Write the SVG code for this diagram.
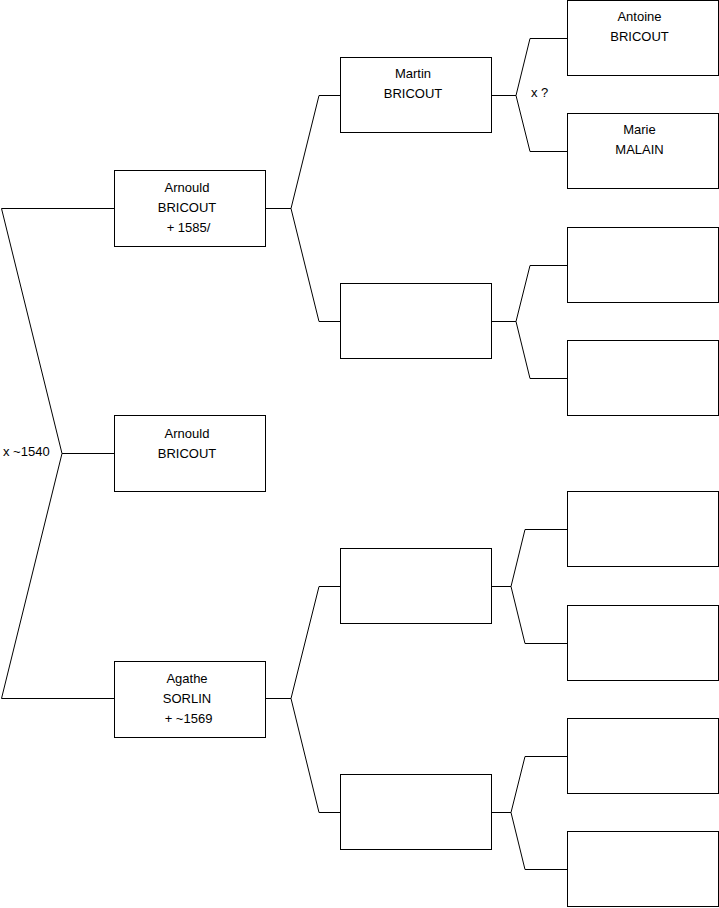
<svg xmlns="http://www.w3.org/2000/svg" width="719" height="908" viewBox="0 0 719 908">
<style>
.box{fill:#fff;stroke:#000;stroke-width:1}
.ln{fill:none;stroke:#000;stroke-width:1}
text{font-family:"Liberation Sans",Arial,sans-serif;font-size:13px;fill:#000}
.c{text-anchor:middle}
</style>
<rect width="719" height="908" fill="#fff"/>
<g id="connectors" class="ln">
<path d="M1.5,208.5 H114.5 M1.5,208.5 L62,453.5 L1.5,698.5 H114.5 M62,453.5 H114.5"/>
<path d="M265.5,208.5 H291 M319,95.5 L291,208.5 L319,321.5 M319,95.5 H340.5 M319,321.5 H340.5"/>
<path d="M265.5,698.5 H291 M319,586.5 L291,698.5 L319,812.5 M319,586.5 H340.5 M319,812.5 H340.5"/>
<path d="M491.5,95.5 H516 M530,38.5 L516,95.5 L530,151.5 M530,38.5 H567.5 M530,151.5 H567.5"/>
<path d="M491.5,321.5 H516 M530,265.5 L516,321.5 L530,378.5 M530,265.5 H567.5 M530,378.5 H567.5"/>
<path d="M491.5,586.5 H511 M525,529.5 L511,586.5 L525,643.5 M525,529.5 H567.5 M525,643.5 H567.5"/>
<path d="M491.5,812.5 H511 M525,756.5 L511,812.5 L525,869.5 M525,756.5 H567.5 M525,869.5 H567.5"/>
</g>
<g id="labels">
<text x="3" y="456">x ~1540</text>
<text x="531" y="97">x ?</text>
</g>
<g id="arnould-1585">
<rect class="box" x="114.5" y="170.5" width="151" height="76"/>
<text class="c" x="187" y="192">Arnould</text>
<text class="c" x="187" y="212">BRICOUT</text>
<text class="c" x="188.5" y="232">+ 1585/</text>
</g>
<g id="arnould">
<rect class="box" x="114.5" y="415.5" width="151" height="76"/>
<text class="c" x="187" y="438">Arnould</text>
<text class="c" x="187" y="458">BRICOUT</text>
</g>
<g id="agathe">
<rect class="box" x="114.5" y="661.5" width="151" height="76"/>
<text class="c" x="187" y="683">Agathe</text>
<text class="c" x="187" y="703">SORLIN</text>
<text class="c" x="188.5" y="723">+ ~1569</text>
</g>
<g id="martin">
<rect class="box" x="340.5" y="57.5" width="151" height="75"/>
<text class="c" x="413" y="78">Martin</text>
<text class="c" x="413" y="98">BRICOUT</text>
</g>
<g id="g2b"><rect class="box" x="340.5" y="283.5" width="151" height="75"/></g>
<g id="g2c"><rect class="box" x="340.5" y="548.5" width="151" height="75"/></g>
<g id="g2d"><rect class="box" x="340.5" y="774.5" width="151" height="75"/></g>
<g id="antoine">
<rect class="box" x="567.5" y="0.5" width="151" height="75"/>
<text class="c" x="639.5" y="21">Antoine</text>
<text class="c" x="639.5" y="41">BRICOUT</text>
</g>
<g id="marie">
<rect class="box" x="567.5" y="113.5" width="151" height="75"/>
<text class="c" x="639.5" y="134">Marie</text>
<text class="c" x="639.5" y="154">MALAIN</text>
</g>
<g id="g3c"><rect class="box" x="567.5" y="227.5" width="151" height="75"/></g>
<g id="g3d"><rect class="box" x="567.5" y="340.5" width="151" height="75"/></g>
<g id="g3e"><rect class="box" x="567.5" y="491.5" width="151" height="75"/></g>
<g id="g3f"><rect class="box" x="567.5" y="605.5" width="151" height="75"/></g>
<g id="g3g"><rect class="box" x="567.5" y="718.5" width="151" height="75"/></g>
<g id="g3h"><rect class="box" x="567.5" y="831.5" width="151" height="75"/></g>
</svg>
